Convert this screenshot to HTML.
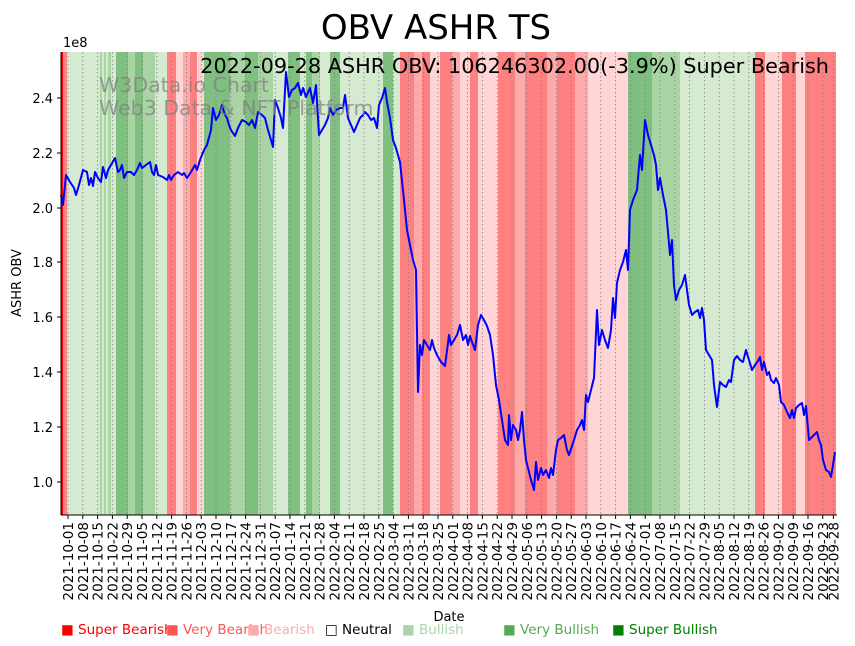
<!DOCTYPE html>
<html><head><meta charset="utf-8"><style>
body{margin:0;background:#fff}
svg{display:block;font-family:"DejaVu Sans","Liberation Sans",sans-serif}
</style></head><body>
<svg id="s" width="855" height="646" viewBox="0 0 855 646" xmlns="http://www.w3.org/2000/svg">
<g id="bands"></g>
<g id="grid"></g>
<polyline id="line" fill="none" stroke="#0000ff" stroke-width="2" stroke-linejoin="round"/>
<line x1="61" y1="52" x2="61" y2="515" stroke="#000" stroke-width="1"/>
<line x1="61" y1="515" x2="837" y2="515" stroke="#000" stroke-width="1"/>
<g id="yt" font-size="13"></g>
<g id="xt" font-size="13.5"></g>
<text x="436" y="39" font-size="34" text-anchor="middle">OBV ASHR TS</text>
<text x="829" y="73" font-size="20.8" text-anchor="end">2022-09-28 ASHR OBV: 106246302.00(-3.9%) Super Bearish</text>
<text x="99" y="92" font-size="20.5" fill="#808080" fill-opacity="0.75">W3Data.io Chart</text>
<text x="99" y="115" font-size="20.5" fill="#808080" fill-opacity="0.75">Web3 Data &amp; NFT Platform</text>
<text x="63" y="47" font-size="13">1e8</text>
<text transform="translate(21,283) rotate(-90)" font-size="13" text-anchor="middle">ASHR OBV</text>
<text x="449" y="621" font-size="13" text-anchor="middle">Date</text>
<g font-size="13.5">
<text x="61" y="634" fill="#ff0000">■ Super Bearish</text>
<text x="166" y="634" fill="#ff5555">■ Very Bearish</text>
<text x="247" y="634" fill="#ffaaaa">■ Bearish</text>
<text x="325" y="634" fill="#000">□ Neutral</text>
<text x="402" y="634" fill="#aad4aa">■ Bullish</text>
<text x="503" y="634" fill="#55aa55">■ Very Bullish</text>
<text x="612" y="634" fill="#008000">■ Super Bullish</text>
</g>
</svg>
<script>
var NS="http://www.w3.org/2000/svg";
function el(t,a,p,txt){var e=document.createElementNS(NS,t);for(var k in a)e.setAttribute(k,a[k]);if(txt)e.textContent=txt;document.getElementById(p).appendChild(e);}
var C={R:"#ff0000",S:"#ff8080",M:"#ffaaaa",P:"#ffd5d5",L:"#d5ead1",G:"#a9d5a4",D:"#7fbf7f"};
var B=[[61,63,"R"],[63,67,"S"],[67,100,"L"],[100,102,"G"],[102,104,"L"],[104,106,"G"],[106,108,"L"],[108,111,"G"],[111,116,"L"],[116,128,"D"],[128,135,"G"],[135,143,"D"],[143,155,"G"],[155,167,"L"],[167,176,"S"],[176,183,"P"],[183,190,"M"],[190,197,"S"],[197,204,"P"],[204,230,"D"],[230,245,"G"],[245,258,"D"],[258,273,"G"],[273,288,"L"],[288,300,"D"],[300,306,"L"],[306,312,"D"],[312,320,"G"],[320,330,"L"],[330,340,"D"],[340,383,"L"],[383,393,"D"],[393,400,"L"],[400,414,"S"],[414,422,"M"],[422,430,"S"],[430,440,"P"],[440,452,"S"],[452,460,"M"],[460,470,"P"],[470,478,"S"],[478,498,"P"],[498,515,"S"],[515,525,"M"],[525,547,"S"],[547,557,"M"],[557,575,"S"],[575,588,"M"],[588,628,"P"],[628,652,"D"],[652,680,"G"],[680,755,"L"],[755,765,"S"],[765,782,"P"],[782,796,"S"],[796,805,"P"],[805,836,"S"]];
B.forEach(function(b){el("rect",{x:b[0],y:52,width:b[1]-b[0],height:463,fill:C[b[2]]},"bands");});
var pts="61,195 63,205 66,175 70,182 74,188 76,195 79,185 83,170 87,172 89,185 91,178 93,186 95,172 98,178 101,182 103,167 106,178 108,170 111,165 115,158 118,172 120,170 122,165 124,178 127,172 131,172 134,175 137,170 140,163 142,168 146,165 150,162 152,172 154,175 156,165 158,175 163,177 167,180 169,175 171,180 174,175 178,172 182,175 184,173 187,178 191,172 195,165 197,170 200,160 204,150 207,145 211,130 213,108 216,120 219,115 222,105 225,115 227,118 229,125 231,130 235,136 238,128 242,120 246,122 249,125 252,120 255,128 258,112 262,115 265,118 268,130 271,140 273,147 275,100 278,108 281,118 283,128 286,72 289,97 292,90 295,88 298,83 301,95 303,88 306,97 310,88 313,103 316,85 319,135 322,130 325,125 328,118 330,108 333,115 336,110 340,108 343,108 345,95 348,118 351,125 354,132 357,125 360,118 363,115 365,112 368,115 371,120 374,118 377,128 379,105 382,98 385,88 387,102 390,118 393,140 396,148 400,162 404,200 407,230 411,250 413,260 416,270 418,392 420,345 422,355 424,340 427,345 430,350 432,340 434,348 437,355 441,362 445,366 449,335 451,345 454,340 457,335 460,325 463,340 466,335 468,345 470,336 472,342 475,350 478,325 481,315 484,320 487,326 490,335 493,355 496,385 499,400 502,420 505,440 508,445 509,415 511,440 513,425 516,430 518,440 520,430 522,412 524,440 526,460 529,472 531,480 534,490 536,462 538,480 541,468 543,475 546,470 549,478 551,468 553,475 556,450 558,440 561,438 564,435 567,450 569,455 572,446 574,440 577,430 580,425 582,420 584,430 586,395 588,402 591,390 594,378 597,310 599,345 602,330 605,340 608,348 611,330 613,298 615,318 617,283 620,270 623,262 626,250 628,270 630,210 633,200 637,190 640,155 642,170 645,120 648,135 651,145 654,155 656,165 658,190 660,178 663,195 666,210 668,232 670,255 672,240 674,285 676,300 679,290 682,285 685,275 687,290 689,305 692,315 695,312 698,310 700,318 702,308 704,320 706,350 709,355 712,360 714,385 717,407 720,382 723,385 726,387 729,380 731,382 734,360 737,356 740,360 743,362 746,350 749,360 752,370 755,365 758,361 760,357 762,370 764,362 767,375 769,372 771,380 774,383 776,378 779,385 781,402 784,405 787,412 790,418 792,410 794,418 796,408 799,405 802,403 804,415 806,406 809,440 811,438 814,435 817,432 819,440 821,445 823,460 826,470 829,472 831,477 833,465 835,452";
document.getElementById("line").setAttribute("points",pts);
[[2.4,98],[2.2,153],[2.0,208],[1.8,262],[1.6,317],[1.4,372],[1.2,427],[1.0,482]].forEach(function(t){
 el("line",{x1:57,x2:61,y1:t[1],y2:t[1],stroke:"#000"},"yt");
 el("text",{x:53,y:t[1]+5,"text-anchor":"end"},"yt",t[0].toFixed(1));
});
var d0=new Date(Date.UTC(2021,9,1));
function fmt(d){return d.toISOString().slice(0,10);}
var ticks=[];
for(var i=0;i<52;i++){ticks.push([68+i*14.8,fmt(new Date(d0.getTime()+i*7*864e5))]);}
ticks.push([833.4,"2022-09-28"]);
ticks.forEach(function(t){
 el("line",{x1:t[0],x2:t[0],y1:52,y2:515,stroke:"#808080","stroke-width":0.8,"stroke-dasharray":"1.5,2.5"},"grid");
 el("line",{x1:t[0],x2:t[0],y1:515,y2:519,stroke:"#000"},"xt");
 el("text",{transform:"translate("+(t[0]+5)+",522) rotate(-90)","text-anchor":"end"},"xt",t[1]);
});
</script>
</body></html>
